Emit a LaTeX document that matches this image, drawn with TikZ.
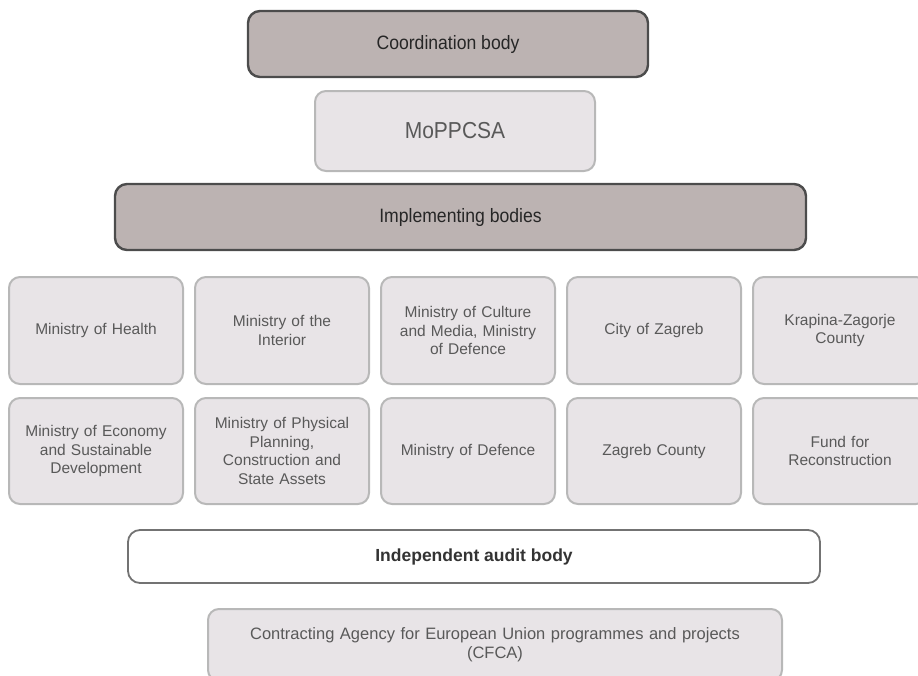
\documentclass[tikz,border=0pt]{standalone}
\usepackage{fontspec}
\setmainfont{Liberation Sans}
\newcommand{\tallt}[1]{\scalebox{1}[1.1]{#1}}
\begin{document}
\begin{tikzpicture}[x=1pt,y=-1pt,
  darkbox/.style={draw=black!70, line width=2.4pt, fill={rgb,255:red,188;green,179;blue,178}, rounded corners=12pt, inner sep=0pt, outer sep=0pt, text=black!85, font=\fontsize{17.6}{20}\selectfont},
  lightbox/.style={draw=black!28, line width=2pt, fill={rgb,255:red,232;green,228;blue,231}, rounded corners=11pt, inner sep=0pt, outer sep=0pt, text=black!65, align=center, font=\fontsize{15.5}{18.6}\selectfont},
  cell/.style={lightbox, minimum width=174pt, text width=160pt},
  auditbox/.style={draw=black!55, line width=1.8pt, fill=white, rounded corners=12pt, inner sep=0pt, outer sep=0pt, text=black!80, font=\bfseries\fontsize{17.5}{20}\selectfont}]
\useasboundingbox (0,0) rectangle (918,675);
\clip (0,0) rectangle (918,675);
\node[darkbox, minimum width=400pt, minimum height=66pt] (coord) at (448,44) {\tallt{Coordination body}};
\node[lightbox, minimum width=280pt, minimum height=80pt, font=\fontsize{21}{24}\selectfont] (mop) at (455,131) {\tallt{MoPPCSA}};
\node[darkbox, minimum width=691pt, minimum height=66pt] (impl) at (460.5,217) {\tallt{Implementing bodies}};
% row 1
\node[cell, minimum height=107pt] (r1a) at (96,330.5) {Ministry of Health};
\node[cell, minimum height=107pt] (r1b) at (282,330.5) {Ministry of the\\Interior};
\node[cell, minimum height=107pt] (r1c) at (468,330.5) {Ministry of Culture\\and Media, Ministry\\of Defence};
\node[cell, minimum height=107pt] (r1d) at (654,330.5) {City of Zagreb};
\node[cell, minimum height=107pt] (r1e) at (840,330.5) {Krapina-Zagorje\\County};
% row 2
\node[cell, minimum height=106pt] (r2a) at (96,451) {Ministry of Economy\\and Sustainable\\Development};
\node[cell, minimum height=106pt] (r2b) at (282,451) {Ministry of Physical\\Planning,\\Construction and\\State Assets};
\node[cell, minimum height=106pt] (r2c) at (468,451) {Ministry of Defence};
\node[cell, minimum height=106pt] (r2d) at (654,451) {Zagreb County};
\node[cell, minimum height=106pt] (r2e) at (840,451) {Fund for\\Reconstruction};
% audit
\node[auditbox, minimum width=692pt, minimum height=53pt] (audit) at (474,556.5) {Independent audit body};
% CFCA
\node[lightbox, minimum width=574pt, minimum height=72pt, text width=560pt, font=\fontsize{16.5}{19}\selectfont] (cfca) at (495,645) {Contracting Agency for European Union programmes and projects\\(CFCA)};
\end{tikzpicture}
\end{document}
